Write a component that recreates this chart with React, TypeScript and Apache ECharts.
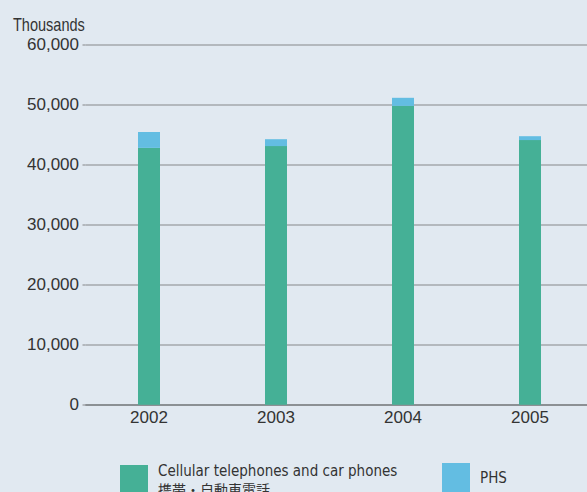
import React, { useEffect, useRef } from "react";
import * as echarts from "echarts";

const years = ["2002", "2003", "2004", "2005"];
const cellular = [42800, 43100, 49800, 44100];
const phs = [2650, 1150, 1350, 650];
const yTicks = { min: 0, max: 60000, interval: 10000 };
const seriesNames = ["Cellular telephones and car phones", "PHS"];
const cellularJa = "携帯・自動車電話";
const unitLabel = "Thousands";

const COND = '"DejaVu Sans Condensed", "Liberation Sans", sans-serif';
const SANS = '"Liberation Sans", Arial, Helvetica, sans-serif';

export default function App() {
  const ref = useRef<HTMLDivElement>(null);
  useEffect(() => {
    if (!ref.current) return;
    const chart = echarts.init(ref.current, null, { renderer: "svg" });
    chart.setOption({
      animation: false,
      backgroundColor: "#e1e9f1",
      grid: {
        left: 85.5,
        width: 508,
        top: 44.7,
        height: 360,
        containLabel: false,
        outerBoundsMode: "none",
      },
      graphic: [
        {
          type: "text",
          x: 13,
          y: 24,
          scaleX: 0.83,
          style: {
            text: unitLabel,
            font: `17.5px ${SANS}`,
            fill: "#333333",
            textVerticalAlign: "middle",
          },
        },
      ],
      legend: [
        {
          data: [seriesNames[0]],
          left: 120,
          top: 463,
          padding: 0,
          itemWidth: 28,
          itemHeight: 29,
          icon: "rect",
          formatter: () => `{a|${seriesNames[0]}}\n{b|${cellularJa}}`,
          textStyle: {
            color: "#333333",
            padding: [0, 0, 0, 5],
            rich: {
              a: { fontFamily: COND, fontSize: 15, lineHeight: 18, color: "#333333" },
              b: { fontFamily: '"Noto Sans CJK JP", sans-serif', fontSize: 14, lineHeight: 18, color: "#333333" },
            },
          },
        },
        {
          data: [seriesNames[1]],
          left: 442,
          top: 463,
          padding: 0,
          itemWidth: 28,
          itemHeight: 29,
          icon: "rect",
          textStyle: { color: "#333333", fontFamily: COND, fontSize: 15, padding: [0, 0, 0, 5] },
        },
      ],
      xAxis: {
        type: "category",
        data: years,
        axisLine: { lineStyle: { color: "#7f8387", width: 1.5 } },
        axisTick: { show: false },
        axisLabel: { color: "#333333", fontFamily: SANS, fontSize: 17, margin: 4 },
      },
      yAxis: {
        type: "value",
        min: yTicks.min,
        max: yTicks.max,
        interval: yTicks.interval,
        axisLine: { show: false },
        axisTick: { show: true, length: 3, lineStyle: { color: "#a3a7ab", width: 1.5 } },
        splitLine: { lineStyle: { color: "#a3a7ab", width: 1.5 } },
        axisLabel: {
          color: "#333333",
          fontFamily: SANS,
          fontSize: 17,
          margin: 6.5,
          formatter: (v: number) => v.toLocaleString("en-US"),
        },
      },
      series: [
        {
          name: seriesNames[0],
          type: "bar",
          stack: "total",
          barWidth: 22,
          data: cellular,
          itemStyle: { color: "#45b096" },
        },
        {
          name: seriesNames[1],
          type: "bar",
          stack: "total",
          barWidth: 22,
          data: phs,
          itemStyle: { color: "#63bde2" },
        },
      ],
    });
    return () => chart.dispose();
  }, []);
  return (
    <div
      ref={ref}
      style={{ position: "fixed", left: 0, top: 0, width: 587, height: 492 }}
    />
  );
}
